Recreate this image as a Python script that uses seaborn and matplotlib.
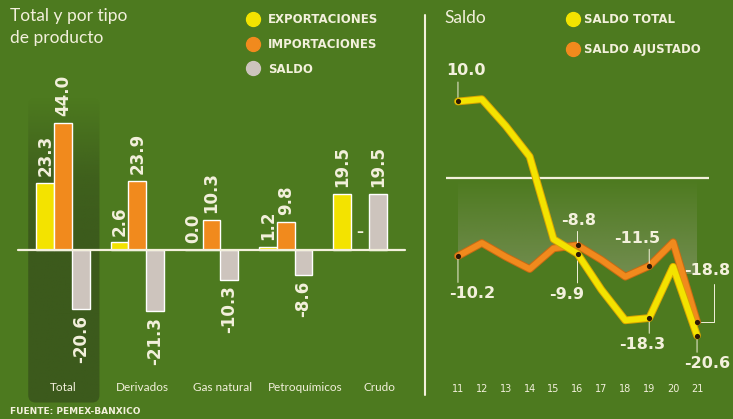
import numpy as np
import pandas as pd
import matplotlib
matplotlib.use("Agg")
import matplotlib.pyplot as plt
import seaborn as sns
import matplotlib.patheffects as pe
from matplotlib.lines import Line2D
from matplotlib.patches import FancyBboxPatch
from matplotlib.colors import to_rgb

# datos: panel izquierdo (miles de millones de dólares)
categories = ["Total", "Derivados", "Gas natural", "Petroquímicos", "Crudo"]
exportaciones = [23.3, 2.6, 0.0, 1.2, 19.5]
importaciones = [44.0, 23.9, 10.3, 9.8, np.nan]
saldo = [-20.6, -21.3, -10.3, -8.6, 19.5]
series_left = ["EXPORTACIONES", "IMPORTACIONES", "SALDO"]

# datos: panel derecho
years = [11, 12, 13, 14, 15, 16, 17, 18, 19, 20, 21]
saldo_total = [10.0, 10.3, 6.8, 2.8, -8.0, -9.9, -14.6, -18.6, -18.3, -11.6, -20.6]
saldo_ajustado = [-10.2, -8.5, -10.3, -11.9, -9.2, -8.8, -10.7, -12.9, -11.5, -8.4, -18.8]
series_right = ["SALDO TOTAL", "SALDO AJUSTADO"]
labeled_years = [11, 16, 19, 21]

BG = "#4d7a1f"
DARK = "#3c5a1c"
YELLOW = "#f3e300"
ORANGE = "#f18a1d"
GRAY = "#cdc4bd"
CREAM = "#f3f0dc"
W, H = 733, 419

sns.set_theme(style="white", rc={"figure.facecolor": BG, "axes.facecolor": "none"})
plt.rcParams["font.family"] = ["DejaVu Sans"]
NARROW = ["Lato", "DejaVu Sans"]

fig = plt.figure(figsize=(W / 100, H / 100), dpi=100)

# ---------- panel izquierdo: barras ----------
ax1 = fig.add_axes([26 / W, (H - 410) / H, 371 / W, 350 / H])
df_left = pd.DataFrame({
    "categoria": categories * 3,
    "serie": [s for s in series_left for _ in categories],
    "valor": exportaciones + importaciones + saldo,
})
sns.barplot(data=df_left, x="categoria", y="valor", hue="serie", order=categories,
            hue_order=series_left, palette=[YELLOW, ORANGE, GRAY], width=0.72, gap=0,
            saturation=1, errorbar=None, legend=False, ax=ax1, zorder=3)

# columna oscura del total (se desvanece hacia arriba)
box = FancyBboxPatch((-0.47, -53.0), 0.96, 106.0, boxstyle="round,pad=0,rounding_size=0.1",
                     mutation_aspect=25.8, transform=ax1.transData, facecolor="none", edgecolor="none")
rows = np.linspace(53, -53, 200)
grad = np.zeros((200, 2, 4))
grad[..., :3] = to_rgb(DARK)
grad[..., 3] = np.interp(rows, [-53, 0, 25, 53], [1.0, 1.0, 0.8, 0.0])[:, None]
im = ax1.imshow(grad, extent=(-0.47, 0.49, -53, 53), aspect="auto", origin="upper", zorder=1)
im.set_clip_path(box)
ax1.set_xlim(-0.5, 4.5)
ax1.set_ylim(-55.6, 66.0)

ax1.plot([-0.61, 4.61], [0, 0], color=CREAM, lw=1.6, clip_on=False, zorder=4)

for cont in ax1.containers:
    for bar in cont:
        h = bar.get_height()
        if np.isnan(h):
            continue
        x = bar.get_x() + bar.get_width() / 2
        ax1.annotate(f"{h:.1f}", (x, h), xytext=(0, 5 if h >= 0 else -4), textcoords="offset points",
                     rotation=90, ha="center", va="bottom" if h >= 0 else "top",
                     fontsize=12, fontweight="bold", color=CREAM, zorder=5)
for i, v in enumerate(importaciones):
    if np.isnan(v):
        ax1.annotate("–", (i, 0), xytext=(0, 13), textcoords="offset points", ha="center",
                     va="center", fontsize=10, fontweight="bold", color=CREAM)

cat_shift = [0.0, 0.07, 0.15, 0.26, 0.27]
for i, cat in enumerate(categories):
    ax1.text(i + cat_shift[i], -47.9, cat, ha="center", va="center",
             fontsize=8.5, family=NARROW, color=CREAM, zorder=5)
ax1.axis("off")

fig.text(10 / W, 1 - 8 / H, "Total y por tipo\nde producto", ha="left", va="top",
         fontsize=12.5, family=NARROW, color=CREAM, linespacing=1.45)
h_left = [Line2D([], [], ls="none", marker="o", ms=10, mfc=c, mec=c) for c in [YELLOW, ORANGE, GRAY]]
fig.legend(h_left, series_left, loc="upper left", bbox_to_anchor=(247 / W, 1 - 13 / H),
           frameon=False, borderpad=0, borderaxespad=0, handlelength=1.0, handletextpad=0.75,
           labelspacing=1.0, prop=dict(family="DejaVu Sans", weight="bold", size=8.5), labelcolor=CREAM)

fig.text(10 / W, 1 - 411 / H, "FUENTE: PEMEX-BANXICO", ha="left", va="center",
         fontsize=6.5, fontweight="bold", color=CREAM)

# separador
fig.add_artist(Line2D([425 / W, 425 / W], [1 - 15 / H, 1 - 395 / H], color=CREAM, lw=1.5))

# ---------- panel derecho: saldo ----------
ax2 = fig.add_axes([446 / W, (H - 378) / H, 263 / W, 318 / H])
df_right = pd.DataFrame({
    "anio": years * 2,
    "serie": [s for s in series_right for _ in years],
    "saldo": saldo_total + saldo_ajustado,
})

poly = ax2.fill_between(years, saldo_ajustado, 0, color="none", lw=0)
g2 = np.zeros((100, 2, 4))
g2[..., :3] = to_rgb("#a0a48a")
g2[..., 3] = np.linspace(0.0, 0.45, 100)[:, None]
im2 = ax2.imshow(g2, extent=(11, 21, -12.5, 0), aspect="auto", origin="upper", zorder=1)
im2.set_clip_path(poly.get_paths()[0], ax2.transData)

ax2.axhline(0, color=CREAM, lw=1.6, zorder=2)

sns.lineplot(data=df_right, x="anio", y="saldo", hue="serie", hue_order=series_right,
             palette=[YELLOW, ORANGE], linewidth=4.2, legend=False, ax=ax2)
edges = {0: "#d8a400", 1: "#c96a12"}
for k, line in enumerate(ax2.lines[-2:]):
    line.set_path_effects([pe.Stroke(linewidth=5.6, foreground=edges[k]), pe.Normal()])
    line.set_solid_joinstyle("round")
    line.set_zorder(4 if k == 0 else 3)

# puntos y etiquetas
label_offsets = {
    ("SALDO TOTAL", 11): (6, 22), ("SALDO AJUSTADO", 11): (10, -27),
    ("SALDO AJUSTADO", 16): (1, 18), ("SALDO TOTAL", 16): (-8, -29),
    ("SALDO AJUSTADO", 19): (-9, 20), ("SALDO TOTAL", 19): (-5, -19),
    ("SALDO AJUSTADO", 21): (7, 37), ("SALDO TOTAL", 21): (7, -20),
}
for name, vals in zip(series_right, [saldo_total, saldo_ajustado]):
    for yr in labeled_years:
        v = vals[years.index(yr)]
        ax2.scatter([yr], [v], s=14, color="#2b1806", zorder=6, lw=0)
        dx, dy = label_offsets[(name, yr)]
        ax2.annotate(f"{v:.1f}", (yr, v), xytext=(dx, dy), textcoords="offset points",
                     ha="center", va="center", fontsize=11.5, fontweight="bold", color=CREAM,
                     zorder=7, annotation_clip=False)
        sgn = 1 if dy > 0 else -1
        if (name, yr) == ("SALDO AJUSTADO", 21):
            ax2.annotate("", (yr, v), xytext=(12, dy - 10), textcoords="offset points",
                         arrowprops=dict(arrowstyle="-", color=CREAM, lw=0.7, shrinkA=0, shrinkB=3,
                                         connectionstyle="angle,angleA=90,angleB=0,rad=0"),
                         annotation_clip=False)
        else:
            ax2.annotate("", (yr, v), xytext=(0, dy - sgn * 8), textcoords="offset points",
                         arrowprops=dict(arrowstyle="-", color=CREAM, lw=0.7, shrinkA=0, shrinkB=2),
                         annotation_clip=False)

ax2.set_xlim(10.5, 21.5)
ax2.set_ylim(-26.14, 15.42)
ax2.set_xticks(years)
ax2.set_xticklabels([str(y) for y in years])
ax2.tick_params(axis="x", length=0, pad=4, labelsize=7, labelcolor=CREAM)
ax2.set_yticks([])
ax2.set_xlabel("")
ax2.set_ylabel("")
for s in ax2.spines.values():
    s.set_visible(False)

fig.text(444 / W, 1 - 10 / H, "Saldo", ha="left", va="top", fontsize=12.5, family=NARROW, color=CREAM)
h_right = [Line2D([], [], ls="none", marker="o", ms=10, mfc=c, mec=c) for c in [YELLOW, ORANGE]]
fig.legend(h_right, series_right, loc="upper left", bbox_to_anchor=(567 / W, 1 - 13 / H),
           frameon=False, borderpad=0, borderaxespad=0, handlelength=1.0, handletextpad=0.45,
           labelspacing=1.45, prop=dict(family="DejaVu Sans", weight="bold", size=8.5), labelcolor=CREAM)

fig.savefig("out.png", dpi=100, facecolor=BG)
